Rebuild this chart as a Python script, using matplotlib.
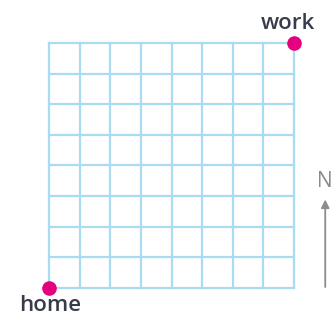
import matplotlib.pyplot as plt
import numpy as np

# street grid: 8 blocks by 8 blocks
n_blocks = 8
places = ["home", "work"]
place_x = [0, 8]
place_y = [0, 8]

fig = plt.figure(figsize=(3.36, 3.18), dpi=100)
ax = fig.add_axes([0, 0, 1, 1])
unit = 30.625
ax.set_xlim(-49 / unit, (336 - 49) / unit)
ax.set_ylim(-(318 - 288) / unit, 8 + 43 / unit)
ax.axis("off")

grid_color = "#a9dcf2"
for i in range(n_blocks + 1):
    ax.plot([i, i], [0, n_blocks], color=grid_color, lw=1.6, zorder=1,
            solid_capstyle="projecting")
    ax.plot([0, n_blocks], [i, i], color=grid_color, lw=1.6, zorder=1,
            solid_capstyle="projecting")

ax.scatter(place_x, place_y, s=110, color="#e5007d", zorder=3, linewidths=0)

txt = dict(fontsize=16, family="Open Sans", weight="semibold", color="#383c4a")
ax.text(place_x[0] + 0.05, place_y[0] - 0.74, places[0], ha="center",
        va="baseline", **txt)
ax.text(place_x[1] - 0.21, place_y[1] + 0.45, places[1], ha="center",
        va="baseline", **txt)

# north arrow
ax.annotate("", xy=(9.02, 2.98), xytext=(9.02, -0.06),
            arrowprops=dict(arrowstyle="-|>", color="#8c8c8c", lw=1.3,
                            mutation_scale=12))
ax.text(9.02, 3.12, "N", fontsize=15, family="Open Sans", color="#8c8c8c",
        ha="center", va="bottom")

fig.savefig("out.png", dpi=100)
